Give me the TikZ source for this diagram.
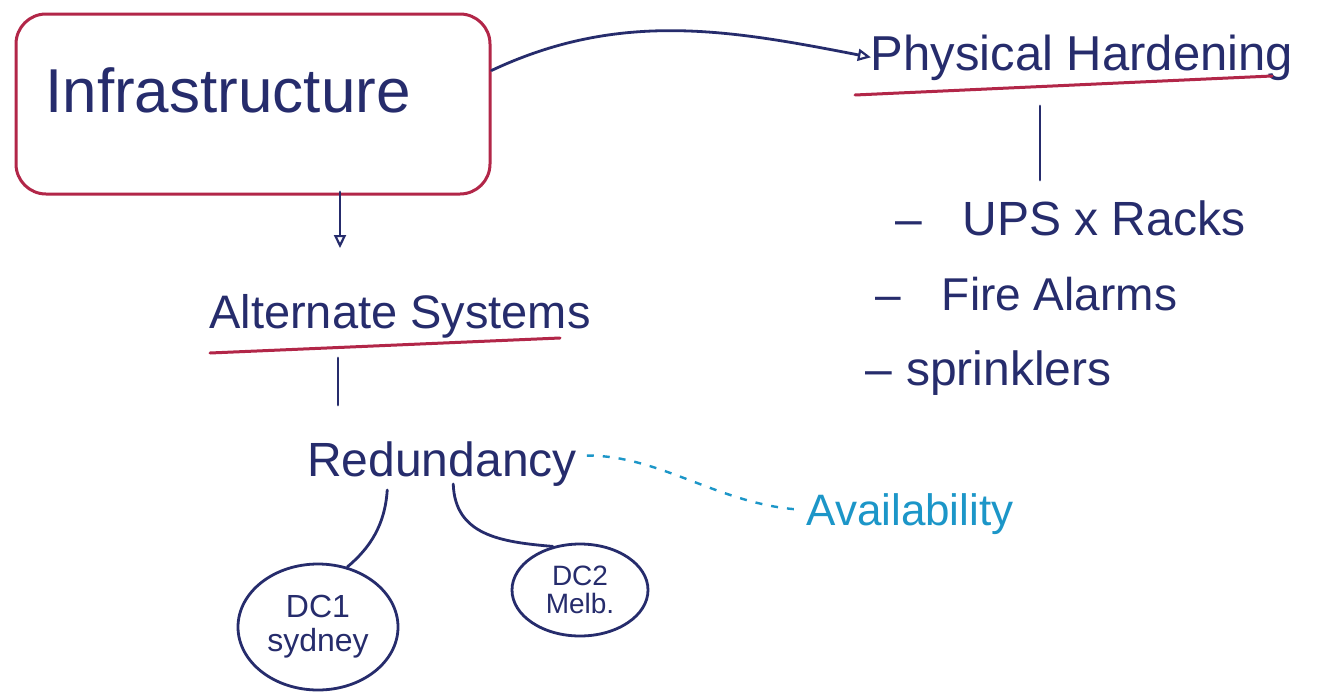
\documentclass[tikz,border=0pt]{standalone}
\usepackage{fontspec}
\setmainfont{Liberation Sans}
\usetikzlibrary{arrows.meta,calc,shapes.geometric}
\definecolor{ink}{RGB}{38,44,108}
\definecolor{redink}{RGB}{178,38,72}
\definecolor{blueink}{RGB}{28,150,200}
\begin{document}
\begin{tikzpicture}[x=1pt,y=-1pt,
  pen/.style={draw=ink, line width=2.8pt, line cap=round, line join=round},
  tip/.style={-{Triangle[open,length=13pt,width=12pt,line width=2.2pt]}},
  word/.style={text=ink, inner sep=0pt, outer sep=0pt},
  underline/.style={draw=redink, line width=3pt, line cap=round},
  site/.style={pen, ellipse, inner sep=0pt, align=center, text=ink}]
\useasboundingbox (0,0) rectangle (1327,696);
\fill[white] (0,0) rectangle (1327,696);

% top-left heading in its rounded frame
\node[draw=redink, line width=3pt, rounded corners=30pt,
      minimum width=474pt, minimum height=180pt] (infra) at (253,104) {};
\node[word, font=\fontsize{62}{62}\selectfont] (infratext) at (228,90) {Infrastructure};

% physical hardening branch
\node[word, anchor=base, font=\fontsize{49}{49}\selectfont] (ph) at (1082,70) {Physical Hardening};
\draw[underline] (855,95) -- (1272,76);
\coordinate (phtop) at (1040,106);
\coordinate (phbot) at (1040,180);
\draw[pen] (phtop) -- (phbot);

\node[word, anchor=base west, font=\fontsize{48}{48}\selectfont] (ups) at (895,235) {–\hspace{0.85em}UPS x Racks};
\node[word, anchor=base west, font=\fontsize{46}{46}\selectfont] (fire) at (875,310) {–\hspace{0.9em}Fire Alarms};
\node[word, anchor=base west, font=\fontsize{48}{48}\selectfont] (spr) at (865,385) {–\hspace{0.3em}sprinklers};

\draw[pen, tip] (infra.8) .. controls (620,10) and (730,30) .. (ph.west);

% alternate systems branch
\coordinate (infradown) at (340,192);
\coordinate (altup) at (340,248);
\draw[pen, tip] (infradown) -- (altup);

\node[word, anchor=base, font=\fontsize{47}{47}\selectfont] (alt) at (400,328) {Alternate Systems};
\draw[underline] (210,353) -- (560,338);
\coordinate (alttick) at (338,358);
\coordinate (redtick) at (338,405);
\draw[pen] (alttick) -- (redtick);

\node[word, anchor=base, font=\fontsize{48}{48}\selectfont] (red) at (442,476) {Redundancy};
\node[word, anchor=base, text=blueink, font=\fontsize{44}{44}\selectfont] (avail) at (910,525) {Availability};
\draw[draw=blueink, line width=2.4pt, dash pattern=on 7pt off 9pt]
  ($(red.east)+(10,-8)$) .. controls (660,455) and (720,505) .. ($(avail.west)+(-6,-4)$);

% data centres
\node[site, minimum width=160pt, minimum height=126pt,
      font=\fontsize{32}{34}\selectfont] (dc1) at (318,627) {DC1\\sydney};
\node[site, minimum width=136pt, minimum height=92pt,
      font=\fontsize{28}{28}\selectfont] (dc2) at (580,590) {DC2\\Melb.};

\draw[pen] ($(red.south west)+(80,4)$) .. controls (385,525) and (370,548) .. (dc1.64);
\draw[pen] ($(red.south west)+(146,-2)$) .. controls (455,535) and (500,542) .. (dc2.122);
\end{tikzpicture}
\end{document}
